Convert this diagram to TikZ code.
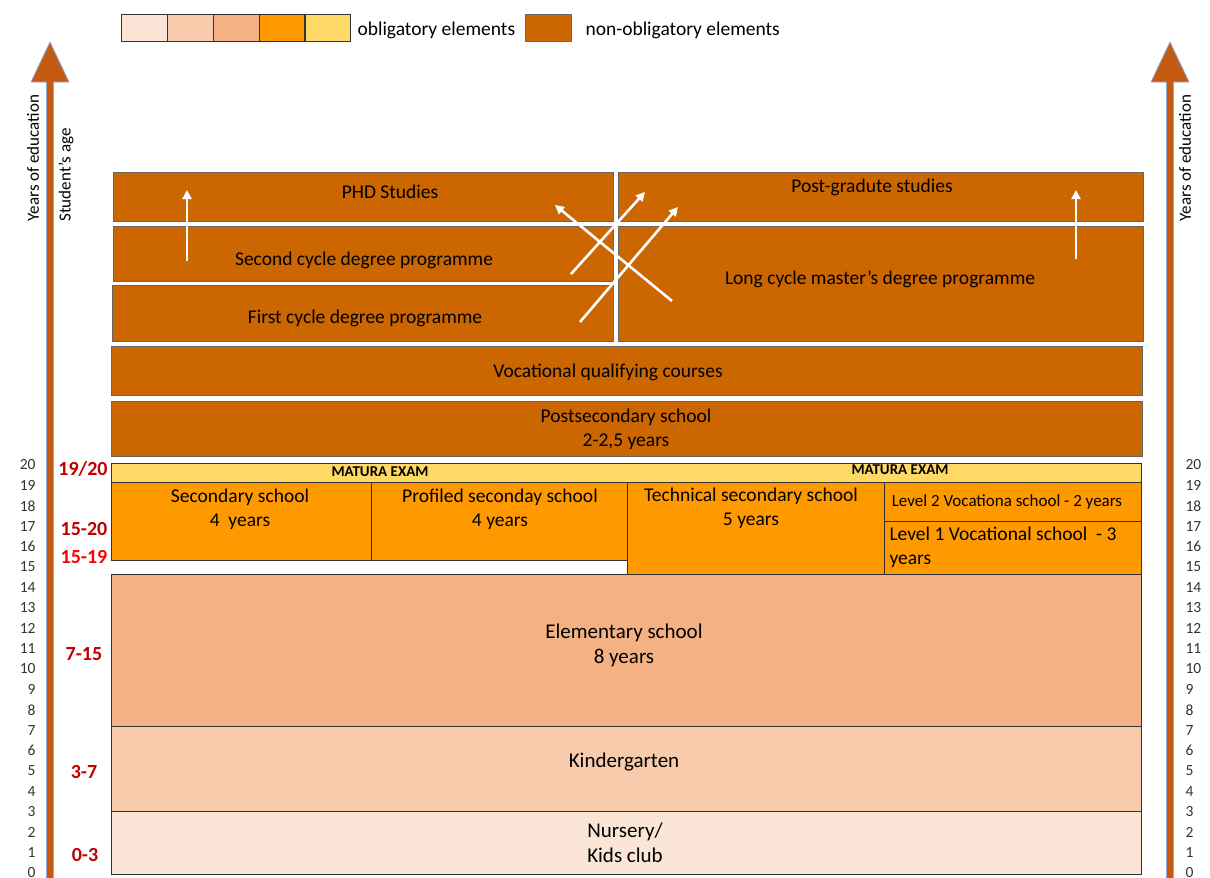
\documentclass[tikz,border=0pt]{standalone}
\usepackage{fontspec}
\setmainfont{Carlito}
\usetikzlibrary{arrows.meta}
\definecolor{nursery}{HTML}{FBE5D6}
\definecolor{kinder}{HTML}{F8CBAD}
\definecolor{elem}{HTML}{F4B183}
\definecolor{secnd}{HTML}{FF9900}
\definecolor{matura}{HTML}{FFD966}
\definecolor{nonobl}{HTML}{CC6600}
\definecolor{axisbrown}{HTML}{C55A11}
\definecolor{axisedge}{HTML}{8FAADC}
\definecolor{agered}{HTML}{C00000}
\tikzset{
  obl/.style={draw=black!80, line width=0.9pt},
  nob/.style={draw=black!60, line width=0.9pt, fill=nonobl},
  txt/.style={font=\fontsize{19.5}{24}\selectfont, align=center},
  big/.style={font=\fontsize{21}{25}\selectfont, align=center},
  age/.style={font=\fontsize{20}{22}\selectfont\bfseries, text=agered},
  yr/.style={font=\fontsize{15.5}{18}\selectfont, text=black!80},
  side/.style={rotate=90, font=\fontsize{17}{19}\selectfont},
  way/.style={draw=white, line width=2.6pt, -{Triangle[width=9pt,length=9pt]}}
}
\begin{document}
\begin{tikzpicture}[x=1pt,y=-1pt]
  \useasboundingbox (0,0) rectangle (1210,878);

  % legenda
  \fill[nursery] (121,14) rectangle (167,41);
  \fill[kinder]  (167,14) rectangle (213,41);
  \fill[elem]    (213,14) rectangle (259,41);
  \fill[secnd]   (259,14) rectangle (304,41);
  \fill[matura]  (304,14) rectangle (350,41);
  \foreach \x in {121,167,213,259,304} {
    \draw[obl] (\x,14) rectangle ++(46,27);
  }
  \node[anchor=west, font=\fontsize{19.5}{22}\selectfont] (oblig) at (354,30) {obligatory elements};
  \draw[nob] (525,14) rectangle (571,41);
  \node[anchor=west, font=\fontsize{19.5}{22}\selectfont] (nonoblig) at (582,30) {non-obligatory elements};

  % assi
  \foreach \c in {50,1170} {
    \filldraw[fill=axisbrown, draw=axisedge, line width=0.8pt]
      (\c-3.5,878) -- (\c-3.5,82) -- (\c-19,82) -- (\c,42) -- (\c+19,82) -- (\c+3.5,82) -- (\c+3.5,878);
  }
  \node[side] (yearsL) at (33,158) {Years of education};
  \node[side] (ageL) at (66,175) {Student’s age};
  \node[side] (yearsR) at (1185,158) {Years of education};
  \foreach \n in {0,...,20} {
    \node[yr, anchor=east] at (39,873-20.4*\n) {\n};
    \node[yr, anchor=west] at (1182,873-20.4*\n) {\n};
  }

  % eta
  \node[age] (a1920) at (83,469) {19/20};
  \node[age] (a1520) at (84,529) {15-20};
  \node[age, text=red] (a1519) at (84,557) {15-19};
  \node[age] (a715) at (84,654) {7-15};
  \node[age] (a37) at (84,772) {3-7};
  \node[age] (a03) at (85,855) {0-3};

  % livello universitario
  \draw[nob] (113,172) rectangle (613,221);
  \node[txt] (phd) at (390,192) {PHD Studies};
  \draw[nob] (618,172) rectangle (1143,221);
  \node[txt] (postgrad) at (872,187) {Post-gradute studies};
  \draw[nob] (113,226) rectangle (613,281);
  \node[txt] (second) at (364,260) {Second cycle degree programme};
  \draw[nob] (112,285) rectangle (613,341);
  \node[txt] (first) at (365,318) {First cycle degree programme};
  \draw[nob] (618,226) rectangle (1143,341);
  \node[txt] (longcycle) at (880,279) {Long cycle master’s degree programme};
  \draw[nob] (111,346) rectangle (1142,395);
  \node[txt] (vqc) at (608,372) {Vocational qualifying courses};
  \draw[nob] (111,401) rectangle (1142,456);
  \node[txt] (postsec) at (626,429) {Postsecondary school\\2-2,5 years};

  % secondaria
  \draw[obl, fill=matura] (111,463) rectangle (1141,482);
  \node[font=\fontsize{15}{17}\selectfont\bfseries] (mat1) at (380,472) {MATURA EXAM};
  \node[font=\fontsize{15}{17}\selectfont\bfseries] (mat2) at (900,470) {MATURA EXAM};
  \draw[obl, fill=secnd] (111,482) rectangle (371,560);
  \node[txt] (secsch) at (240,509) {Secondary school\\4~~years};
  \draw[obl, fill=secnd] (371,482) rectangle (627,560);
  \node[txt] (profsch) at (500,509) {Profiled seconday school\\4 years};
  \draw[obl, fill=secnd] (627,482) rectangle (884,574);
  \node[txt] (techsch) at (751,508) {Technical secondary school\\5 years};
  \draw[obl, fill=secnd] (884,482) rectangle (1141,521);
  \node[font=\fontsize{17}{19}\selectfont] (voc2) at (1007,502) {Level 2 Vocationa school - 2 years};
  \draw[obl, fill=secnd] (884,521) rectangle (1141,574);
  \node[txt, anchor=west, align=left] (voc1) at (886,547) {Level 1 Vocational school ~- 3\\years};

  % primaria e infanzia
  \draw[obl, fill=elem] (111,574) rectangle (1141,726);
  \node[big] (elemsch) at (624,645) {Elementary school\\8 years};
  \draw[obl, fill=kinder] (111,726) rectangle (1141,811);
  \node[big] (kinderg) at (624,762) {Kindergarten};
  \draw[obl, fill=nursery] (111,811) rectangle (1141,874);
  \node[big] (nurs) at (625,843) {Nursery/\\Kids club};

  % passaggi
  \coordinate (p1s) at (187,261); \coordinate (p1e) at (187,190);
  \coordinate (p2s) at (1076,259); \coordinate (p2e) at (1076,190);
  \coordinate (p3s) at (672,301); \coordinate (p3e) at (555,205);
  \coordinate (p4s) at (571,274); \coordinate (p4e) at (645,192);
  \coordinate (p5s) at (580,322); \coordinate (p5e) at (678,207);
  \foreach \p in {p1,p2,p3,p4,p5} {
    \draw[way] (\p s) -- (\p e);
  }
  % linea bianca tra i blocchi
  \draw[white, line width=2pt] (615.5,168) -- (615.5,343);
\end{tikzpicture}
\end{document}
